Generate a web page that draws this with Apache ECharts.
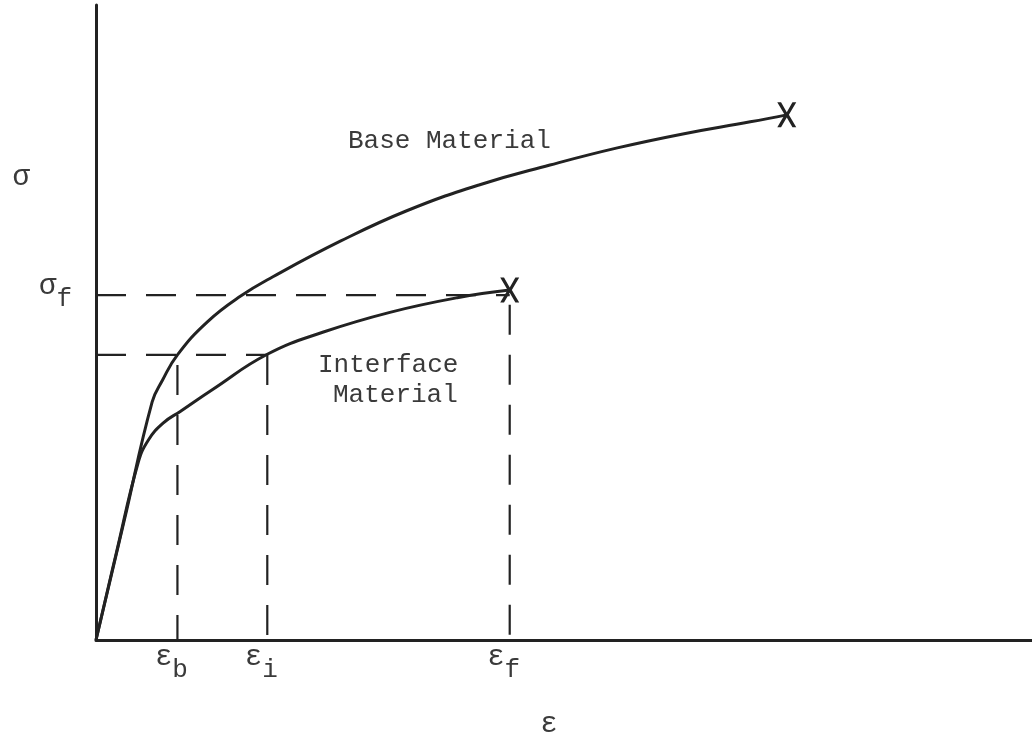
<!DOCTYPE html>
<html>
<head>
<meta charset="utf-8">
<title>Stress–strain curves</title>
<script src="https://cdn.jsdelivr.net/npm/echarts@6/dist/echarts.min.js"></script>
<style>
  html, body { margin: 0; padding: 0; background: #ffffff; }
  #chart { width: 1032px; height: 736px; }
</style>
</head>
<body>
<div id="chart"></div>
<script>
// Strain (ε) and stress (σ) in arbitrary units.
const baseStrain = [0, 3.0, 6.0, 7.1, 8.7, 11.9, 15.5, 18.9, 26.1, 33.2, 41.0, 48.5, 55.7, 62.7, 69.9, 73.8];
const baseStress = [0, 18.7, 37.5, 40.9, 44.9, 50.1, 54.2, 57.2, 62.8, 67.6, 71.7, 74.8, 77.5, 79.7, 81.6, 82.7];

const ifaceStrain = [0, 2.2, 4.5, 5.6, 7.2, 9.0, 12.5, 18.3, 24.3, 31.4, 38.6, 44.2];
const ifaceStress = [0, 13.9, 27.9, 31.5, 34.2, 36.0, 39.5, 45.0, 48.5, 51.6, 53.9, 55.1];

// Characteristic strains and stresses marked on the axes
const strainMarks = [8.7, 18.3, 44.2];
const strainSubs = ['b', 'i', 'f'];
const stressFail = 54.3;      // σf
const stressYieldRef = 44.9;  // common stress level for εb and εi
const stressSymbolAt = 73.1;  // where the σ axis symbol sits

const INK = '#222222';
const TEXT = '#3a3a3a';
const MONO = '"Liberation Mono", "DejaVu Sans Mono", monospace';

const pairs = (xs, ys) => xs.map((x, i) => [x, ys[i]]);

// X-shaped fracture marker
const crossPath = 'path://M0,0 L3.6,0 L9,9.4 L14.4,0 L18,0 L11,12 L18,24 L14.4,24 L9,14.6 L3.6,24 L0,24 L7,12 Z';

function curveData(xs, ys) {
  const d = pairs(xs, ys);
  const last = d.pop();
  d.push({
    value: last,
    symbol: crossPath,
    symbolSize: [19, 25],
    itemStyle: { color: INK }
  });
  return d;
}

function guide(points) {
  return {
    type: 'line',
    data: points,
    symbol: 'none',
    silent: true,
    z: 1,
    lineStyle: { color: INK, width: 2.2, type: [30, 20] }
  };
}

const subRich = {
  g: { fontFamily: MONO, fontSize: 29, color: TEXT, lineHeight: 28, verticalAlign: 'top' },
  s: { fontFamily: MONO, fontSize: 26, color: TEXT, lineHeight: 40, verticalAlign: 'bottom' },
  solo: { fontFamily: MONO, fontSize: 29, color: TEXT, padding: [10, 42, 0, 0] }
};

const chart = echarts.init(document.getElementById('chart'), null, { renderer: 'canvas' });

chart.setOption({
  backgroundColor: '#ffffff',
  animation: false,
  grid: { left: 96, right: 0, top: 5, bottom: 96, outerBoundsMode: 'none' },
  xAxis: {
    type: 'value',
    min: 0,
    max: 100,
    name: 'ε',
    nameLocation: 'middle',
    nameGap: 70,
    nameTextStyle: { fontFamily: MONO, fontSize: 29, color: TEXT, padding: [0, 30, 0, 0] },
    splitLine: { show: false },
    axisTick: { show: false },
    axisLine: { show: true, lineStyle: { color: INK, width: 3 } },
    axisLabel: {
      customValues: strainMarks,
      margin: 3,
      padding: [0, 12, 0, 0],
      formatter: v => '{g|ε}{s|' + strainSubs[strainMarks.indexOf(v)] + '}',
      rich: subRich
    }
  },
  yAxis: {
    type: 'value',
    min: 0,
    max: 100,
    splitLine: { show: false },
    axisTick: { show: false },
    axisLine: { show: true, lineStyle: { color: INK, width: 3 } },
    axisLabel: {
      customValues: [stressFail, stressSymbolAt],
      margin: 24,
      padding: [0, 0, 6, 0],
      formatter: v => v === stressFail ? '{g|σ}{s|f}' : '{solo|σ}',
      rich: subRich
    }
  },
  graphic: [
    {
      type: 'text', x: 348, y: 141,
      style: { text: 'Base Material', font: '26px ' + MONO, fill: TEXT, verticalAlign: 'middle' }
    },
    {
      type: 'text', x: 318, y: 365,
      style: { text: 'Interface', font: '26px ' + MONO, fill: TEXT, verticalAlign: 'middle' }
    },
    {
      type: 'text', x: 333, y: 395,
      style: { text: 'Material', font: '26px ' + MONO, fill: TEXT, verticalAlign: 'middle' }
    }
  ],
  series: [
    // dashed construction lines
    guide([[0, stressFail], [strainMarks[2], stressFail]]),
    guide([[0, stressYieldRef], [strainMarks[1], stressYieldRef]]),
    guide([[strainMarks[0], stressYieldRef - 1.6], [strainMarks[0], 0]]),
    guide([[strainMarks[1], stressYieldRef], [strainMarks[1], 0]]),
    guide([[strainMarks[2], stressFail - 1.5], [strainMarks[2], 0]]),
    {
      name: 'Base Material',
      type: 'line',
      data: curveData(baseStrain, baseStress),
      smooth: 0.45,
      showSymbol: true,
      symbol: 'none',
      z: 3,
      lineStyle: { color: INK, width: 3 }
    },
    {
      name: 'Interface Material',
      type: 'line',
      data: curveData(ifaceStrain, ifaceStress),
      smooth: 0.45,
      showSymbol: true,
      symbol: 'none',
      z: 3,
      lineStyle: { color: INK, width: 3 }
    }
  ]
});
</script>
</body>
</html>
